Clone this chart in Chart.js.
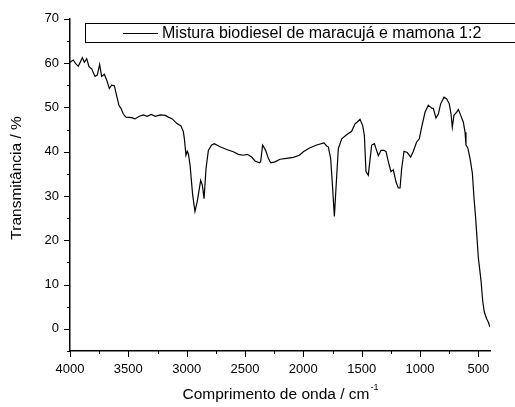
<!DOCTYPE html>
<html>
<head>
<meta charset="utf-8">
<script src="https://cdn.jsdelivr.net/npm/chart.js@4/dist/chart.umd.min.js"></script>
<style>
html,body{margin:0;padding:0;background:#fff;}
#wrap{width:515px;height:407px;position:relative;}
</style>
</head>
<body>
<div id="wrap"><canvas id="c" width="515" height="407"></canvas></div>
<script>
const seriesLabel = 'Mistura biodiesel de maracujá e mamona 1:2';
const xTitle = 'Comprimento de onda / cm';
const xTitleSup = '-1';
const yTitle = 'Transmitância / %';

const wavenumbers = [
  4000, 3972, 3950, 3929, 3894, 3877, 3857, 3837, 3814, 3786, 3766, 3746, 3729, 3706, 3686, 3663, 3643, 3620,
  3600, 3580, 3563, 3543, 3520, 3471, 3443, 3406, 3369, 3340, 3303, 3269, 3226, 3183, 3157, 3123, 3086, 3049,
  3029, 3020, 3006, 2995, 2985, 2971, 2949, 2929, 2909, 2880, 2866, 2851, 2834, 2814, 2786, 2763, 2714, 2657,
  2600, 2557, 2514, 2480, 2443, 2414, 2377, 2366, 2349, 2323, 2300, 2280, 2243, 2200, 2143, 2086, 2034, 2000,
  1943, 1886, 1823, 1800, 1786, 1766, 1749, 1734, 1720, 1700, 1671, 1629, 1586, 1557, 1537, 1514, 1491, 1477,
  1463, 1443, 1429, 1414, 1391, 1377, 1357, 1334, 1309, 1291, 1271, 1249, 1229, 1206, 1186, 1171, 1157, 1137,
  1109, 1080, 1057, 1029, 1006, 986, 957, 929, 900, 886, 863, 843, 823, 794, 771, 749, 734, 723, 709, 686, 671,
  651, 629, 614, 606, 591, 571, 551, 537, 523, 500, 477, 463, 449, 429, 414, 400
];
const transmittance = [
  60.2, 60.7, 59.8, 59.3, 61.2, 60.2, 61.0, 59.2, 58.7, 57.0, 57.3, 59.7, 57.0, 57.5, 56.2, 54.3, 55.0, 54.9,
  52.6, 50.4, 49.8, 48.5, 47.8, 47.7, 47.4, 48.0, 48.3, 48.0, 48.4, 48.0, 48.3, 48.2, 47.8, 47.4, 46.4, 45.8,
  44.6, 43.0, 39.2, 40.1, 39.5, 37.0, 30.3, 26.5, 28.8, 33.5, 32.5, 29.4, 36.2, 40.3, 41.5, 41.8, 41.1, 40.5,
  40.0, 39.4, 39.2, 39.4, 38.8, 37.9, 37.5, 37.7, 41.5, 40.3, 38.5, 37.5, 37.7, 38.3, 38.5, 38.7, 39.2, 40.0,
  40.9, 41.5, 42.0, 41.3, 41.1, 38.5, 31.8, 25.4, 31.8, 40.7, 42.9, 43.8, 44.6, 46.3, 46.7, 47.3, 45.9, 43.7,
  35.5, 34.7, 38.1, 41.5, 41.8, 40.7, 39.1, 40.3, 40.3, 40.0, 37.7, 35.5, 35.9, 33.2, 31.8, 31.8, 36.2, 40.1,
  39.8, 38.8, 40.1, 42.2, 42.9, 45.5, 48.9, 50.5, 49.8, 49.8, 47.6, 48.5, 50.8, 52.3, 51.9, 50.8, 48.5, 45.5, 48.2, 48.9, 49.5,
  48.2, 46.7, 44.4, 41.5, 40.9, 38.5, 35.1, 29.5, 25.0, 16.1, 10.9, 6.4, 3.8, 2.3, 1.5, 0.4
];

const xMajorTicks = [4000, 3500, 3000, 2500, 2000, 1500, 1000, 500];
const xMinorTicks = [3750, 3250, 2750, 2250, 1750, 1250, 750];
const yMajorTicks = [0, 10, 20, 30, 40, 50, 60, 70];
const yMinorTicks = [-5, 5, 15, 25, 35, 45, 55, 65];
const xRange = [400, 4000];
const yRange = [-5, 70];

const FONT = "Arial, 'Liberation Sans', sans-serif";

const decor = {
  id: 'decor',
  afterDraw(chart) {
    const { ctx, scales: { x, y }, chartArea: a } = chart;
    ctx.save();
    ctx.strokeStyle = '#000';
    ctx.lineWidth = 1;
    const line = (x1, y1, x2, y2) => { ctx.beginPath(); ctx.moveTo(x1, y1); ctx.lineTo(x2, y2); ctx.stroke(); };
    xMajorTicks.forEach(v => { const p = Math.round(x.getPixelForValue(v)) + 0.5; line(p, a.bottom, p, a.bottom + 6); });
    xMinorTicks.forEach(v => { const p = Math.round(x.getPixelForValue(v)) + 0.5; line(p, a.bottom, p, a.bottom + 3); });
    yMajorTicks.forEach(v => { const p = Math.round(y.getPixelForValue(v)) + 0.5; line(a.left, p, a.left - 6, p); });
    yMinorTicks.forEach(v => { const p = Math.round(y.getPixelForValue(v)) + 0.5; line(a.left, p, a.left - 3, p); });

    // legend box
    ctx.lineWidth = 1;
    ctx.strokeStyle = '#000';
    ctx.strokeRect(85.5, 23.5, 440, 19);
    ctx.lineWidth = 1.2;
    line(123, 33.5, 158, 33.5);
    ctx.fillStyle = '#000';
    ctx.font = '16px ' + FONT;
    ctx.textAlign = 'left';
    ctx.textBaseline = 'middle';
    ctx.fillText(chart.data.datasets[0].label, 162, 33.5);

    // x title with superscript
    const cx = (a.left + a.right) / 2;
    ctx.font = '15.5px ' + FONT;
    const w1 = ctx.measureText(xTitle).width;
    ctx.font = '9px ' + FONT;
    const w2 = ctx.measureText(xTitleSup).width;
    const sx = cx - (w1 + w2) / 2;
    ctx.textBaseline = 'alphabetic';
    ctx.font = '15.5px ' + FONT;
    ctx.fillText(xTitle, sx, 399);
    ctx.font = '9px ' + FONT;
    ctx.fillText(xTitleSup, sx + w1 + 1, 390);

    // y title
    ctx.save();
    ctx.translate(17, (a.top + a.bottom) / 2 - 7);
    ctx.rotate(-Math.PI / 2);
    ctx.font = '15.5px ' + FONT;
    ctx.textAlign = 'center';
    ctx.textBaseline = 'middle';
    ctx.fillText(yTitle, 0, 0);
    ctx.restore();

    ctx.restore();
  }
};

new Chart(document.getElementById('c'), {
  type: 'line',
  data: {
    datasets: [{
      label: seriesLabel,
      data: wavenumbers.map((w, i) => ({ x: w, y: transmittance[i] })),
      borderColor: '#000',
      borderWidth: 1.2,
      pointRadius: 0,
      fill: false,
      tension: 0
    }]
  },
  options: {
    responsive: false,
    animation: false,
    devicePixelRatio: 1,
    layout: { padding: { top: 16, right: 25, left: 0, bottom: 0 } },
    plugins: { legend: { display: false }, tooltip: { enabled: false } },
    scales: {
      x: {
        type: 'linear',
        reverse: true,
        min: xRange[0],
        max: xRange[1],
        grid: { display: false, drawTicks: false },
        border: { display: true, color: '#000', width: 1.5 },
        afterBuildTicks: s => { s.ticks = xMajorTicks.map(v => ({ value: v })); },
        afterFit: s => { s.height = 56; },
        ticks: { color: '#000', font: { size: 13, family: FONT }, padding: 11, maxRotation: 0, autoSkip: false,
                 callback: v => String(v) }
      },
      y: {
        type: 'linear',
        min: yRange[0],
        max: yRange[1],
        grid: { display: false, drawTicks: false },
        border: { display: true, color: '#000', width: 1.5 },
        afterBuildTicks: s => { s.ticks = yMajorTicks.map(v => ({ value: v })); },
        afterFit: s => { s.width = 70; },
        ticks: { color: '#000', font: { size: 13, family: FONT }, padding: 11, callback: v => String(v) }
      }
    }
  },
  plugins: [decor]
});
</script>
</body>
</html>
